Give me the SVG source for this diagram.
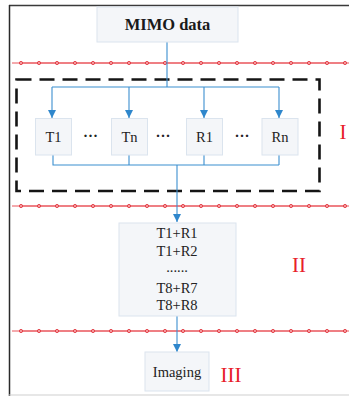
<svg xmlns="http://www.w3.org/2000/svg" width="349" height="396" viewBox="0 0 349 396">
  <defs>
    <style>
      .box { fill: #f4f6f9; stroke: #dbe4ee; stroke-width: 1; }
      .lbl { font-family: "Liberation Serif", "Times New Roman", serif; font-size: 14.5px; fill: #222; text-anchor: middle; }
      .ell { font-family: "Liberation Serif", "Times New Roman", serif; font-size: 15px; font-weight: bold; fill: #222; text-anchor: middle; }
      .title { font-family: "Liberation Serif", "Times New Roman", serif; font-size: 16.5px; font-weight: bold; fill: #1a1a1a; text-anchor: middle; }
      .roman { font-family: "Liberation Serif", "Times New Roman", serif; font-size: 21px; fill: #e8202a; text-anchor: middle; }
      .wire { fill: none; stroke: #3b8fd0; stroke-width: 1.1; }
      .sep { fill: none; stroke: #e9545a; stroke-width: 1; marker-start: url(#dot); marker-mid: url(#dot); marker-end: url(#dot); }
    </style>
    <marker id="ah" viewBox="0 0 8 8" refX="8" refY="4" markerWidth="8" markerHeight="8" markerUnits="userSpaceOnUse" orient="auto">
      <path d="M0,0 L8,4 L0,8 Z" fill="#2f87cc"/>
    </marker>
    <!-- small ring placed on every vertex of a separator -->
    <marker id="dot" viewBox="0 0 6 6" refX="3" refY="3" markerWidth="6" markerHeight="6" markerUnits="userSpaceOnUse">
      <circle cx="3" cy="3" r="1.6" fill="#f6a3a6" stroke="#e0363e" stroke-width="0.9"/>
    </marker>
  </defs>

  <rect width="349" height="396" fill="#ffffff"/>

  <!-- outer frame -->
  <g id="frame">
    <line x1="9" y1="5.5" x2="349" y2="5.5" stroke="#3a3a3a" stroke-width="1.5"/>
    <line x1="9.5" y1="5" x2="9.5" y2="396" stroke="#2a2a2a" stroke-width="1.5"/>
    <line x1="9" y1="395" x2="349" y2="395" stroke="#cfcfcf" stroke-width="1"/>
  </g>

  <!-- stage separators: a plain line plus ringed vertices every 18px -->
  <g id="separators">
    <line x1="12" y1="63" x2="349" y2="63" stroke="#e9545a" stroke-width="1"/>
    <path class="sep" d="M21,63 H39 H57 H75 H93 H111 H129 H147 H165 H183 H201 H219 H237 H255 H273 H291 H309 H327 H345"/>
    <line x1="12" y1="206" x2="349" y2="206" stroke="#e9545a" stroke-width="1"/>
    <path class="sep" d="M21,206 H39 H57 H75 H93 H111 H129 H147 H165 H183 H201 H219 H237 H255 H273 H291 H309 H327 H345"/>
    <line x1="12" y1="331" x2="349" y2="331" stroke="#e9545a" stroke-width="1"/>
    <path class="sep" d="M21,331 H39 H57 H75 H93 H111 H129 H147 H165 H183 H201 H219 H237 H255 H273 H291 H309 H327 H345"/>
  </g>

  <!-- stage I grouping -->
  <g id="stage1-frame">
    <rect x="16.5" y="79.5" width="303" height="111.5" fill="none" stroke="#151515" stroke-width="2.6" stroke-dasharray="15 8"/>
  </g>

  <!-- connectors -->
  <g id="connectors">
    <path class="wire" d="M167,42 V87 M52,87 H279"/>
    <line class="wire" x1="52" y1="87" x2="52" y2="118" marker-end="url(#ah)"/>
    <line class="wire" x1="129" y1="87" x2="129" y2="118" marker-end="url(#ah)"/>
    <line class="wire" x1="204" y1="87" x2="204" y2="118" marker-end="url(#ah)"/>
    <line class="wire" x1="279" y1="87" x2="279" y2="118" marker-end="url(#ah)"/>
    <path class="wire" d="M53,155 V165 H279 M129,155 V165 M204,155 V165 M279,155 V165"/>
    <line class="wire" x1="177" y1="165" x2="177" y2="222" marker-end="url(#ah)"/>
    <line class="wire" x1="177" y1="316" x2="177" y2="352" marker-end="url(#ah)"/>
  </g>

  <g id="mimo-data">
    <rect class="box" x="97" y="7" width="141" height="35"/>
    <text class="title" x="167.5" y="30">MIMO data</text>
  </g>

  <g id="t1">
    <rect class="box" x="35.5" y="118.5" width="36" height="36.5"/>
    <text class="lbl" x="53.5" y="141.5">T1</text>
  </g>
  <g id="tn">
    <rect class="box" x="111.5" y="118.5" width="36" height="36.5"/>
    <text class="lbl" x="129.5" y="141.5">Tn</text>
  </g>
  <g id="r1">
    <rect class="box" x="186.5" y="118.5" width="36" height="36.5"/>
    <text class="lbl" x="204.5" y="141.5">R1</text>
  </g>
  <g id="rn">
    <rect class="box" x="262" y="118.5" width="36" height="36.5"/>
    <text class="lbl" x="280" y="141.5">Rn</text>
  </g>
  <g id="ellipses">
    <text class="ell" x="90.5" y="141">···</text>
    <text class="ell" x="163" y="141">···</text>
    <text class="ell" x="242" y="141">···</text>
  </g>

  <g id="pairs">
    <rect class="box" x="119" y="223" width="117" height="93"/>
    <text class="lbl" x="177" y="238">T1+R1</text>
    <text class="lbl" x="177" y="255.5">T1+R2</text>
    <text class="lbl" x="177" y="272">......</text>
    <text class="lbl" x="177" y="292.5">T8+R7</text>
    <text class="lbl" x="177" y="309.5">T8+R8</text>
  </g>

  <g id="imaging">
    <rect class="box" x="145" y="352" width="64" height="39"/>
    <text class="lbl" x="177" y="376.5">Imaging</text>
  </g>

  <g id="stage-labels">
    <text class="roman" x="343" y="139">I</text>
    <text class="roman" x="299" y="272">II</text>
    <text class="roman" x="231" y="382">III</text>
  </g>
</svg>
